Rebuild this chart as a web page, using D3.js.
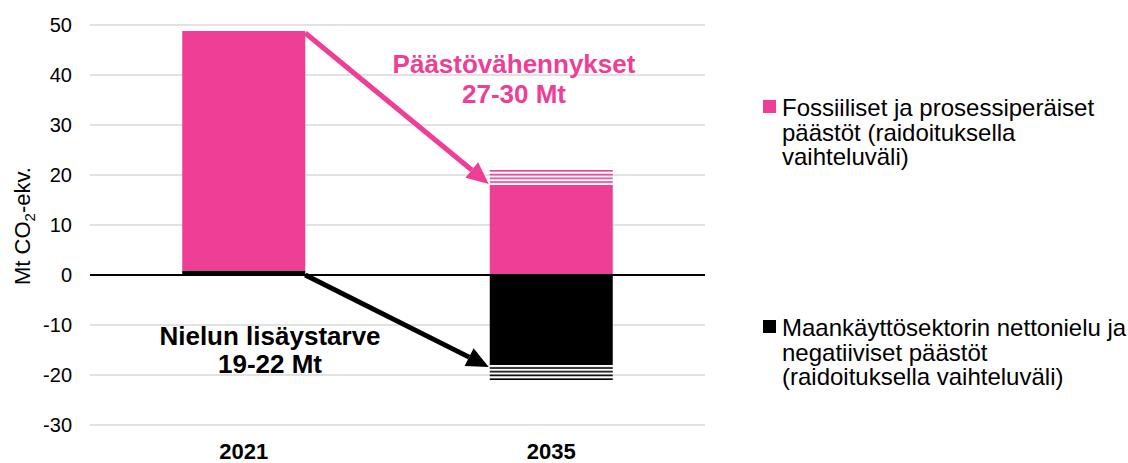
<!DOCTYPE html>
<html><head><meta charset="utf-8">
<script src="https://cdn.jsdelivr.net/npm/d3@7"></script>
<style>
html,body{margin:0;padding:0;background:#fff;}
svg{display:block;font-family:"Liberation Sans",Arial,sans-serif;}
</style></head>
<body>
<svg id="chart" width="1128" height="463"></svg>
<script>
const categories = ["2021", "2035"];
const fossilBase = [47.9, 18];      // solid pink part
const sinkBase = [0.9, -18];        // solid black part (2021 a net source)
const fossilRange2035 = [18, 21];   // striped variation range
const sinkRange2035 = [-18, -21];   // striped variation range
const yTicks = [-30, -20, -10, 0, 10, 20, 30, 40, 50];
const legendItems = [
  {lines:["Fossiiliset ja prosessiperäiset","päästöt (raidoituksella","vaihteluväli)"], color:"#EE3E96"},
  {lines:["Maankäyttösektorin nettonielu ja","negatiiviset päästöt","(raidoituksella vaihteluväli)"], color:"#000000"}
];
const annotTop = ["Päästövähennykset", "27-30 Mt"];
const annotBottom = ["Nielun lisäystarve", "19-22 Mt"];

const PINK = "#EE3E96";
const svg = d3.select("#chart");
const x = d3.scaleBand().domain(categories).range([90, 705]).paddingInner(0.6).paddingOuter(0.3);
const y = d3.scaleLinear().domain([-30, 50]).range([425, 25]);
const bw = x.bandwidth();

// gridlines
svg.append("g").selectAll("line").data(yTicks.filter(d => d !== 0)).join("line")
  .attr("x1", 90).attr("x2", 705).attr("y1", d => y(d)).attr("y2", d => y(d))
  .attr("stroke", "#d9d9d9").attr("stroke-width", 1.5);

// tick labels
svg.append("g").selectAll("text").data(yTicks).join("text")
  .attr("x", 72).attr("y", d => y(d)).attr("dy", "0.36em").attr("text-anchor", "end")
  .attr("font-size", 20).attr("fill", "#000").text(d => d);

// y title
const yt = svg.append("text").attr("transform", "translate(30,226) rotate(-90)")
  .attr("text-anchor", "middle").attr("font-size", 22).attr("fill", "#000");
yt.append("tspan").text("Mt CO");
yt.append("tspan").attr("font-size", 15).attr("dy", 5).text("2");
yt.append("tspan").attr("dy", -5).text("-ekv.");

// patterns
const defs = svg.append("defs");
const pPeriod = (y(fossilRange2035[0]) - y(fossilRange2035[1])) / 4;
const pp = defs.append("pattern").attr("id", "pinkStripe").attr("patternUnits", "userSpaceOnUse")
  .attr("x", 0).attr("y", y(fossilRange2035[1])).attr("width", 10).attr("height", pPeriod);
pp.append("rect").attr("x", 0).attr("y", 0).attr("width", 10).attr("height", 1.6).attr("fill", PINK);
const bPeriod = (y(sinkRange2035[1]) - y(sinkRange2035[0])) / 4;
const bp = defs.append("pattern").attr("id", "blackStripe").attr("patternUnits", "userSpaceOnUse")
  .attr("x", 0).attr("y", y(sinkRange2035[0])).attr("width", 10).attr("height", bPeriod);
bp.append("rect").attr("x", 0).attr("y", bPeriod - 1.6).attr("width", 10).attr("height", 1.6).attr("fill", "#000");

// bars
categories.forEach((c, i) => {
  const sb = sinkBase[i];
  const fb = fossilBase[i];
  svg.append("rect").attr("x", x(c)).attr("width", bw)
    .attr("y", y(Math.max(0, sb))).attr("height", Math.abs(y(sb) - y(0))).attr("fill", "#000");
  const start = sb > 0 ? sb : 0;
  svg.append("rect").attr("x", x(c)).attr("width", bw)
    .attr("y", y(start + fb)).attr("height", y(start) - y(start + fb)).attr("fill", PINK);
});
// striped ranges (2035)
svg.append("rect").attr("x", x("2035")).attr("width", bw)
  .attr("y", y(fossilRange2035[1])).attr("height", y(fossilRange2035[0]) - y(fossilRange2035[1]))
  .attr("fill", "url(#pinkStripe)");
svg.append("rect").attr("x", x("2035")).attr("width", bw)
  .attr("y", y(sinkRange2035[0])).attr("height", y(sinkRange2035[1]) - y(sinkRange2035[0]))
  .attr("fill", "url(#blackStripe)");

// zero line
svg.append("line").attr("x1", 90).attr("x2", 705).attr("y1", y(0)).attr("y2", y(0))
  .attr("stroke", "#000").attr("stroke-width", 2);

// category labels
svg.append("g").selectAll("text").data(categories).join("text")
  .attr("x", d => x(d) + bw / 2).attr("y", 459).attr("text-anchor", "middle")
  .attr("font-size", 22).attr("font-weight", "bold").attr("fill", "#000").text(d => d);

// arrows
function arrow(x1, y1, x2, y2, color) {
  const ang = Math.atan2(y2 - y1, x2 - x1);
  const L = 22, W = 10;
  const bx = x2 - L * Math.cos(ang), by = y2 - L * Math.sin(ang);
  svg.append("line").attr("x1", x1).attr("y1", y1).attr("x2", bx).attr("y2", by)
    .attr("stroke", color).attr("stroke-width", 5);
  const px = -Math.sin(ang) * W, py = Math.cos(ang) * W;
  svg.append("polygon").attr("points",
    [[x2, y2], [bx + px, by + py], [bx - px, by - py]].map(p => p.join(",")).join(" "))
    .attr("fill", color);
}
const x21r = x("2021") + bw, x35l = x("2035");
arrow(x21r, y(sinkBase[0] + fossilBase[0]) + 2, x35l - 1, y(fossilRange2035[0]) - 1, PINK);
arrow(x21r, y(0), x35l - 1, y(sinkRange2035[0]) + 2, "#000");

// annotations
svg.append("g").selectAll("text").data(annotTop).join("text")
  .attr("x", 514).attr("y", (d, i) => 73 + i * 30).attr("text-anchor", "middle")
  .attr("font-size", 26).attr("font-weight", "bold").attr("fill", PINK).text(d => d);
svg.append("g").selectAll("text").data(annotBottom).join("text")
  .attr("x", 270).attr("y", (d, i) => 345 + i * 28).attr("text-anchor", "middle")
  .attr("font-size", 26).attr("font-weight", "bold").attr("fill", "#000").text(d => d);

// legend
const legBase = [116, 336];
legendItems.forEach((it, k) => {
  const g = svg.append("g");
  g.append("rect").attr("x", 763).attr("y", legBase[k] - 16).attr("width", 13).attr("height", 13).attr("fill", it.color);
  g.selectAll("text").data(it.lines).join("text")
    .attr("x", 782).attr("y", (d, i) => legBase[k] + i * 24.5)
    .attr("font-size", 24).attr("fill", "#000").text(d => d);
});
</script>
</body></html>
